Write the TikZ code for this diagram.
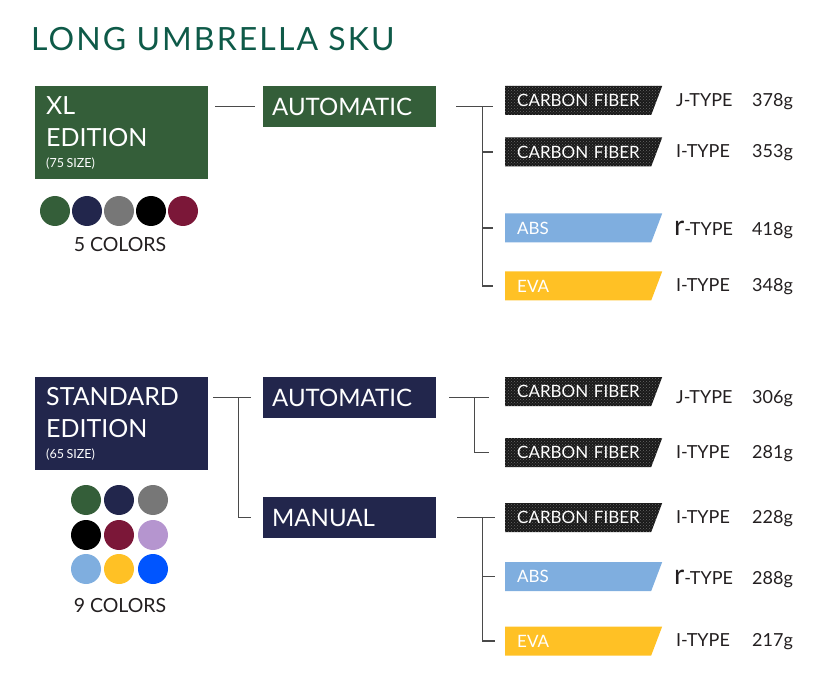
\documentclass[tikz,border=0pt]{standalone}
\usepackage{fontspec}
\setmainfont{Lato}
\usepackage{tikz}
\usetikzlibrary{patterns}

\definecolor{titlegreen}{HTML}{0E5A48}
\definecolor{xlgreen}{HTML}{345E39}
\definecolor{navy}{HTML}{22264C}
\definecolor{absblue}{HTML}{7FAEDF}
\definecolor{evayellow}{HTML}{FFC125}
\definecolor{maroon}{HTML}{7B1738}
\definecolor{lavender}{HTML}{B595CF}
\definecolor{brightblue}{HTML}{0055FF}
\definecolor{dotgray}{HTML}{777777}
\definecolor{darktext}{HTML}{231F20}
\definecolor{linegray}{HTML}{4A4A4A}

\begin{document}
\begin{tikzpicture}[x=1pt, y=-1pt,
  edition/.style={fill=#1, text=white, anchor=north west, minimum width=173pt,
    minimum height=93pt, inner xsep=11pt, text width=151pt, align=left,
    font=\fontsize{25}{32}\selectfont},
  method/.style={fill=#1, text=white, anchor=north west, minimum width=173pt,
    minimum height=41pt, inner xsep=9pt, text width=155pt, align=left,
    text height=17.5pt, text depth=0pt, font=\fontsize{24}{30}\selectfont},
  material/.style={anchor=west, minimum width=157pt, minimum height=29pt,
    inner xsep=12pt, text width=133pt, align=left, text=white,
    text height=12.5pt, text depth=0pt, font=\fontsize{17}{20}\selectfont,
    path picture={\fill[#1] (path picture bounding box.north west)
      -- (path picture bounding box.north east)
      -- ([xshift=-11pt]path picture bounding box.south east)
      -- (path picture bounding box.south west) -- cycle;}},
  carbon/.style={material, path picture={
    \fill[black!90] (path picture bounding box.north west)
      -- (path picture bounding box.north east)
      -- ([xshift=-11pt]path picture bounding box.south east)
      -- (path picture bounding box.south west) -- cycle;
    \fill[pattern=crosshatch dots, pattern color=gray!80!black] (path picture bounding box.north west)
      -- (path picture bounding box.north east)
      -- ([xshift=-11pt]path picture bounding box.south east)
      -- (path picture bounding box.south west) -- cycle;}},
  typ/.style={anchor=west, inner sep=0pt, text=darktext, text height=13pt,
    text depth=0pt, font=\fontsize{18}{20}\selectfont},
  count/.style={inner sep=0pt, text=darktext, text height=14pt, text depth=0pt,
    font=\fontsize{19.5}{22}\selectfont},
  tree/.style={draw=linegray, line width=1.3pt}]
\useasboundingbox (0,0) rectangle (820,695);

% Title
\node[anchor=base west, inner sep=0pt, text=titlegreen,
  font=\fontsize{32}{36}\selectfont\addfontfeature{LetterSpace=6.5}]
  (title) at (31,51) {LONG UMBRELLA SKU};

% XL edition
\node[edition=xlgreen] (xl) at (35,86)
  {XL\\EDITION\\[-11pt]{\fontsize{12.5}{15}\selectfont (75\hspace{2.5pt}SIZE)}};
\node[method=xlgreen] (xa) at (263,86) {AUTOMATIC};

\fill[xlgreen] (55,211) circle (15pt);
\fill[navy] (87,211) circle (15pt);
\fill[dotgray] (119,211) circle (15pt);
\fill[black] (151,211) circle (15pt);
\fill[maroon] (183,211) circle (15pt);
\node[count] (xlcount) at (120,245) {5 COLORS};

\node[carbon] (m1) at (505,100.5) {CARBON FIBER};
\node[carbon] (m2) at (505,152) {CARBON FIBER};
\node[material=absblue] (m3) at (505,228) {ABS};
\node[material=evayellow] (m4) at (505,286) {EVA};

\node[typ] (t1) at (676,100) {J-TYPE};
\node[typ] (t2) at (676,151) {I-TYPE};
\node[typ] (t3) at (674,229) {{\fontsize{28}{28}\selectfont r}-TYPE};
\node[typ] (t4) at (676,285) {I-TYPE};
\node[typ] (w1) at (752,100) {378g};
\node[typ] (w2) at (752,151) {353g};
\node[typ] (w3) at (752,229) {418g};
\node[typ] (w4) at (752,285) {348g};

\draw[tree] ([xshift=7pt]xl.east |- xa.west) -- ([xshift=-8pt]xa.west);
\draw[tree] ([xshift=20pt]xa.east) -- ([xshift=-12pt]m1.west |- xa.east);
\draw[tree] ([xshift=46pt]xa.east) |- ([xshift=-12pt]m4.west);
\draw[tree] ([xshift=46pt]xa.east |- m2.west) -- ([xshift=-12pt]m2.west);
\draw[tree] ([xshift=46pt]xa.east |- m3.west) -- ([xshift=-12pt]m3.west);

% Standard edition
\node[edition=navy] (std) at (35,377)
  {STANDARD\\EDITION\\[-11pt]{\fontsize{12.5}{15}\selectfont (65\hspace{2.5pt}SIZE)}};
\node[method=navy] (sa) at (263,377) {AUTOMATIC};
\node[method=navy] (sm) at (263,497) {MANUAL};

\fill[xlgreen] (86,500) circle (15pt);
\fill[navy] (119,500) circle (15pt);
\fill[dotgray] (153,500) circle (15pt);
\fill[black] (86,535) circle (15pt);
\fill[maroon] (119,535) circle (15pt);
\fill[lavender] (153,535) circle (15pt);
\fill[absblue] (86,569) circle (15pt);
\fill[evayellow] (119,569) circle (15pt);
\fill[brightblue] (153,569) circle (15pt);
\node[count] (stdcount) at (120,605) {9 COLORS};

\node[carbon] (s1) at (505,391.5) {CARBON FIBER};
\node[carbon] (s2) at (505,452.5) {CARBON FIBER};
\node[carbon] (s3) at (505,517.5) {CARBON FIBER};
\node[material=absblue] (s4) at (505,576.5) {ABS};
\node[material=evayellow] (s5) at (505,641) {EVA};

\node[typ] (u1) at (676,397) {J-TYPE};
\node[typ] (u2) at (676,452) {I-TYPE};
\node[typ] (u3) at (676,517) {I-TYPE};
\node[typ] (u4) at (674,578) {{\fontsize{28}{28}\selectfont r}-TYPE};
\node[typ] (u5) at (676,640) {I-TYPE};
\node[typ] (v1) at (752,397) {306g};
\node[typ] (v2) at (752,452) {281g};
\node[typ] (v3) at (752,517) {228g};
\node[typ] (v4) at (752,578) {288g};
\node[typ] (v5) at (752,640) {217g};

\draw[tree] ([xshift=5pt]std.east |- sa.west) -- ([xshift=-12pt]sa.west);
\draw[tree] ([xshift=30pt]std.east |- sa.west) |- ([xshift=-12pt]sm.west);

\draw[tree] ([xshift=13pt]sa.east) -- ([xshift=-16pt]s1.west |- sa.east);
\draw[tree] ([xshift=38pt]sa.east) |- ([xshift=-16pt]s2.west);

\draw[tree] ([xshift=21pt]sm.east) -- ([xshift=-10pt]s3.west |- sm.east);
\draw[tree] ([xshift=46pt]sm.east) |- ([xshift=-10pt]s5.west);
\draw[tree] ([xshift=46pt]sm.east |- s4.west) -- ([xshift=-10pt]s4.west);
\end{tikzpicture}
\end{document}
